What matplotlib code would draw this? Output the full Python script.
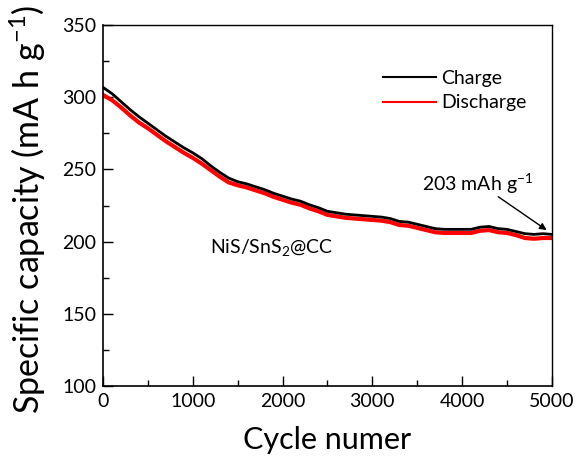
import matplotlib
matplotlib.use("Agg")
import matplotlib.pyplot as plt
from matplotlib.ticker import MultipleLocator

plt.rcParams['font.family'] = ['Lato', 'DejaVu Sans']
plt.rcParams['mathtext.default'] = 'regular'

# values, one every 100 cycles
cycles = list(range(0, 5001, 100))
charge = [306.8, 302.5, 297, 291.5, 286.5, 282, 277.5, 273, 269, 265,
          261.5, 257.5, 252.5, 248, 244, 241.5, 240, 238, 236, 233.5,
          231.5, 229.5, 228, 225.5, 223.5, 221, 220, 219, 218.5, 218,
          217.5, 217, 216, 214, 213.5, 212, 210.5, 209, 208.5, 208.5,
          208.5, 208.5, 210, 210.5, 209, 208.5, 207, 205.5, 205, 205.5,
          205]
discharge = [301.5, 298, 293, 287.5, 282.5, 278.5, 274, 269.5, 265.5, 261.5,
             258, 254, 249.5, 245, 241, 239, 237.5, 235.5, 233.5, 231,
             229, 227, 225.5, 223, 221, 218.5, 217.5, 216.5, 216, 215.5,
             215, 214.5, 213.5, 211.5, 211, 209.5, 208, 206.5, 206, 206,
             206, 206, 207.5, 208, 206.5, 206, 204.5, 202.5, 202, 202.5,
             202.5]

fig = plt.figure(figsize=(5.77, 4.59), dpi=100)
ax = fig.add_axes([0.1785, 0.159, 0.778, 0.7865])

ax.plot(cycles, discharge, color='#ff0000', lw=3.0, label='Discharge', zorder=2)
ax.plot(cycles, charge, color='black', lw=2.0, label='Charge', zorder=3)

ax.set_xlim(0, 5000)
ax.set_ylim(100, 350)
ax.xaxis.set_major_locator(MultipleLocator(1000))
ax.xaxis.set_minor_locator(MultipleLocator(500))
ax.yaxis.set_major_locator(MultipleLocator(50))
ax.yaxis.set_minor_locator(MultipleLocator(25))
ax.tick_params(which='both', direction='in', labelsize=14, pad=5)
ax.tick_params(which='major', length=7, width=1)
ax.tick_params(which='minor', length=4.5, width=1)
for s in ['left', 'bottom']:
    ax.spines[s].set_linewidth(1.2)
for s in ['top', 'right']:
    ax.spines[s].set_linewidth(1.0)

ax.set_xlabel('Cycle numer', fontsize=22)
ax.set_ylabel('Specific capacity (mA h g$^{-1}$)', fontsize=24.5)
ax.xaxis.set_label_coords(0.499, -0.11)
ax.yaxis.set_label_coords(-0.122, 0.49)

handles, labels = ax.get_legend_handles_labels()
leg = ax.legend(handles[::-1], labels[::-1], loc='upper left',
                bbox_to_anchor=(0.585, 0.925), frameon=False, fontsize=14,
                handlelength=2.7, labelspacing=0.4, handletextpad=0.3)
for h in leg.get_lines():
    h.set_linewidth(1.5)

ax.text(1192, 192, 'NiS/SnS$_2$@CC', fontsize=14)
ax.text(3549, 235.3, '203 mAh g$^{-1}$', fontsize=14)
ax.annotate('', xy=(4941, 208), xytext=(4402, 231.1),
            arrowprops=dict(arrowstyle='-|>', color='black', lw=1,
                            mutation_scale=10, shrinkA=0, shrinkB=0))

fig.savefig('out.png', dpi=100)
